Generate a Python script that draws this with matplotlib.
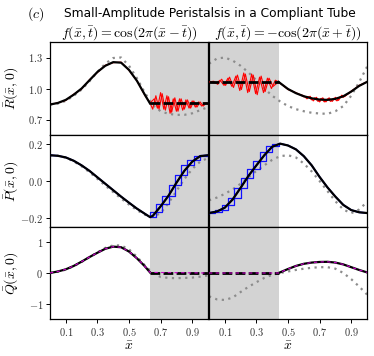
import matplotlib
matplotlib.use("Agg")
import matplotlib.pyplot as plt

plt.rcParams['mathtext.fontset'] = 'cm'

# ---------------- data ----------------
xg = [0.0, 0.05, 0.1, 0.15, 0.2, 0.25, 0.3, 0.35, 0.4, 0.45, 0.5,
      0.55, 0.6, 0.65, 0.7, 0.75, 0.8, 0.85, 0.9, 0.95, 1.0]

# shaded (gray) intervals
shade_left = (0.633, 1.0)
shade_right = (0.0, 0.44)

# ---- R, left column ----
R_left_x = [0.0, 0.05, 0.1, 0.15, 0.2, 0.25, 0.3, 0.35, 0.4, 0.45, 0.5, 0.55, 0.6, 0.633]
R_left = [0.845, 0.86, 0.89, 0.94, 1.0, 1.08, 1.16, 1.22, 1.255, 1.25, 1.18, 1.075, 0.94, 0.855]
R_left_flat = 0.855
R_left_dot = [0.845, 0.855, 0.88, 0.93, 0.99, 1.07, 1.16, 1.24, 1.295, 1.30, 1.22,
              1.10, 0.96, 0.84, 0.78, 0.755, 0.745, 0.745, 0.76, 0.79, 0.82]
R_left_redA_x = [0.0, 0.05, 0.1, 0.15, 0.2, 0.25, 0.3, 0.35, 0.4, 0.45, 0.5, 0.55, 0.6, 0.633,
                 0.65, 0.67, 0.69, 0.71, 0.73, 0.75, 0.77, 0.79, 0.81, 0.83, 0.85, 0.87,
                 0.89, 0.91, 0.93, 0.95, 0.97, 0.99, 1.0]
R_left_redA = [0.845, 0.862, 0.885, 0.945, 0.995, 1.085, 1.155, 1.225, 1.25, 1.255, 1.175, 1.075, 0.935, 0.86,
               0.80, 0.93, 0.80, 0.95, 0.79, 0.92, 0.77, 0.91, 0.78, 0.90, 0.80, 0.89,
               0.81, 0.88, 0.82, 0.87, 0.83, 0.86, 0.85]
R_left_redB_x = [0.633, 0.66, 0.68, 0.70, 0.72, 0.74, 0.76, 0.78, 0.80, 0.82, 0.84, 0.86,
                 0.88, 0.90, 0.92, 0.94, 0.96, 0.98, 1.0]
R_left_redB = [0.86, 0.90, 0.81, 0.96, 0.80, 0.93, 0.76, 0.90, 0.78, 0.90, 0.79, 0.89,
               0.81, 0.88, 0.82, 0.87, 0.83, 0.86, 0.85]

# ---- R, right column ----
R_right_flat = 1.064
R_right_x = [0.44, 0.5, 0.55, 0.6, 0.65, 0.7, 0.75, 0.8, 0.85, 0.9, 0.95, 1.0]
R_right = [1.064, 0.995, 0.955, 0.925, 0.905, 0.893, 0.89, 0.90, 0.925, 0.97, 1.025, 1.064]
R_right_dot = [1.24, 1.29, 1.30, 1.27, 1.22, 1.155, 1.08, 1.0, 0.93, 0.875, 0.83,
               0.80, 0.78, 0.765, 0.758, 0.755, 0.78, 0.83, 0.93, 1.06, 1.21]
R_right_redA_x = [0.0, 0.03, 0.055, 0.08, 0.105, 0.13, 0.155, 0.18, 0.205, 0.23, 0.255, 0.28,
                  0.305, 0.33, 0.355, 0.38, 0.405, 0.44, 0.5, 0.55, 0.6, 0.62, 0.64, 0.66,
                  0.68, 0.70, 0.72, 0.74, 0.76, 0.78, 0.80, 0.82, 0.84, 0.86, 0.9, 0.95, 1.0]
R_right_redA = [1.064, 1.07, 1.04, 1.09, 1.03, 1.11, 1.01, 1.13, 0.99, 1.14, 0.97, 1.13,
                0.94, 1.12, 0.97, 1.10, 1.02, 1.064, 0.995, 0.955, 0.93, 0.90, 0.925, 0.88,
                0.915, 0.87, 0.91, 0.87, 0.91, 0.875, 0.915, 0.885, 0.935, 0.925, 0.975, 1.025, 1.064]
R_right_redB_x = [0.0, 0.045, 0.07, 0.095, 0.12, 0.145, 0.17, 0.195, 0.22, 0.245, 0.27, 0.295,
                  0.32, 0.345, 0.37, 0.395, 0.42, 0.44, 0.5, 0.55, 0.6, 0.63, 0.65, 0.67,
                  0.69, 0.71, 0.73, 0.75, 0.77, 0.79, 0.81, 0.83, 0.85, 0.9, 0.95, 1.0]
R_right_redB = [1.064, 1.05, 1.08, 1.03, 1.10, 1.02, 1.12, 0.98, 1.15, 0.96, 1.14, 0.95,
                1.11, 0.96, 1.10, 1.00, 1.08, 1.064, 0.99, 0.96, 0.92, 0.92, 0.89, 0.91,
                0.875, 0.905, 0.87, 0.90, 0.875, 0.905, 0.88, 0.92, 0.915, 0.97, 1.03, 1.064]

# ---- P, left column ----
P_left_x = [0.0, 0.05, 0.1, 0.15, 0.2, 0.25, 0.3, 0.35, 0.4, 0.45, 0.5, 0.55, 0.6, 0.633,
            0.65, 0.7, 0.75, 0.8, 0.85, 0.9, 0.95, 1.0]
P_left = [0.14, 0.137, 0.128, 0.11, 0.085, 0.055, 0.02, -0.015, -0.05, -0.085, -0.118, -0.15,
          -0.178, -0.196, -0.19, -0.138, -0.08, -0.01, 0.055, 0.105, 0.135, 0.14]
P_left_dot = [0.14, 0.137, 0.127, 0.107, 0.08, 0.048, 0.012, -0.025, -0.06, -0.095, -0.128,
              -0.158, -0.183, -0.195, -0.175, -0.12, -0.055, 0.01, 0.065, 0.105, 0.125]
P_left_blue_x = [0.633, 0.67, 0.71, 0.75, 0.79, 0.83, 0.87, 0.91, 0.95, 1.0]
P_left_blue = [-0.196, -0.17, -0.126, -0.08, -0.024, 0.03, 0.085, 0.113, 0.135, 0.14]

# ---- P, right column ----
P_right = [-0.174, -0.166, -0.145, -0.10, -0.037, 0.028, 0.085, 0.14, 0.186, 0.203, 0.193,
           0.172, 0.135, 0.085, 0.022, -0.035, -0.085, -0.13, -0.158, -0.17, -0.174]
P_right_dot = [-0.105, -0.09, -0.07, -0.045, -0.015, 0.02, 0.055, 0.085, 0.115, 0.135, 0.14,
               0.128, 0.095, 0.052, 0.0, -0.055, -0.11, -0.155, -0.175, -0.155, -0.114]
P_right_blue_x = [0.0, 0.04, 0.08, 0.12, 0.16, 0.20, 0.24, 0.28, 0.32, 0.36, 0.40, 0.44]
P_right_blue = [-0.174, -0.168, -0.155, -0.13, -0.09, -0.037, 0.015, 0.065, 0.11, 0.155, 0.188, 0.203]

# ---- Q, left column ----
Q_left_x = [0.0, 0.05, 0.1, 0.15, 0.2, 0.25, 0.3, 0.35, 0.4, 0.45, 0.5, 0.55, 0.6, 0.633]
Q_left = [0.0, 0.05, 0.12, 0.23, 0.37, 0.52, 0.66, 0.79, 0.86, 0.84, 0.70, 0.48, 0.22, 0.02]
Q_left_dot = [0.0, 0.04, 0.11, 0.22, 0.36, 0.52, 0.67, 0.82, 0.9, 0.9, 0.77, 0.53, 0.25, 0.0,
              -0.13, -0.16, -0.17, -0.16, -0.15, -0.12, -0.08]

# ---- Q, right column ----
Q_right_x = [0.44, 0.5, 0.55, 0.6, 0.65, 0.7, 0.75, 0.8, 0.85, 0.9, 0.95, 1.0]
Q_right = [0.0, 0.13, 0.23, 0.3, 0.34, 0.36, 0.365, 0.34, 0.28, 0.19, 0.1, 0.02]
Q_right_dot = [-0.76, -0.86, -0.88, -0.8, -0.62, -0.45, -0.3, -0.16, -0.06, 0.0, 0.05,
               0.1, 0.14, 0.17, 0.19, 0.19, 0.14, 0.0, -0.2, -0.44, -0.7]

# ticks
x_ticks = [0.1, 0.3, 0.5, 0.7, 0.9]
R_ticks = [0.7, 1.0, 1.3]
P_ticks = [-0.2, 0.0, 0.2]
Q_ticks = [-1, 0, 1]
title_main = "Small-Amplitude Peristalsis in a Compliant Tube"
col_titles = [r'$f(\bar{x},\bar{t}) = \cos(2\pi(\bar{x}-\bar{t}))$',
              r'$f(\bar{x},\bar{t}) = -\cos(2\pi(\bar{x}+\bar{t}))$']
row_labels = [r'$\bar{R}(\bar{x},0)$', r'$\bar{P}(\bar{x},0)$', r'$\bar{Q}(\bar{x},0)$']

# ---------------- figure ----------------
W, H = 374, 356
fig = plt.figure(figsize=(W / 100, H / 100), dpi=100)

cols = [(50, 208), (209, 367)]
rows = [(42, 135), (135, 227), (227, 319)]
axes = [[None, None] for _ in range(3)]
for r, (y0, y1) in enumerate(rows):
    for c, (x0, x1) in enumerate(cols):
        ax = fig.add_axes([x0 / W, 1 - y1 / H, (x1 - x0) / W, (y1 - y0) / H])
        axes[r][c] = ax

shade_col = '#d3d3d3'
blue = '#1010ff'
dot_kw = dict(color='#8c8c8c', linestyle=(0, (1, 2)), lw=1.6, zorder=2)
blk_kw = dict(color='black', lw=1.6, zorder=4)
dash_kw = dict(color='black', lw=2.0, linestyle=(0, (3.5, 1.2)), zorder=4)
mag_kw = dict(color='#cc00cc', lw=0.8, linestyle=(0, (3, 3)), zorder=5)

ylims = [(0.55, 1.45), (-0.25, 0.25), (-1.5, 1.5)]
yticks = [R_ticks, P_ticks, Q_ticks]
ytl = [['$0.7$', '$1.0$', '$1.3$'], ['$-0.2$', '$0.0$', '$0.2$'], ['$-1$', '$0$', '$1$']]

for r in range(3):
    for c in range(2):
        ax = axes[r][c]
        s = shade_left if c == 0 else shade_right
        ax.axvspan(s[0], s[1], color=shade_col, lw=0, zorder=0)
        ax.set_xlim(0, 1)
        ax.set_ylim(*ylims[r])
        for sp in ax.spines.values():
            sp.set_linewidth(0.9)
        ax.tick_params(direction='out', length=3, width=0.7, labelsize=7.5,
                       labelcolor='#333333', pad=2)
        if r == 2:
            ax.set_xticks(x_ticks)
            ax.set_xticklabels(['$%.1f$' % v for v in x_ticks])
            ax.set_xlabel(r'$\bar{x}$', fontsize=10, labelpad=1)
        else:
            ax.set_xticks([])
        if c == 0:
            ax.set_yticks(yticks[r])
            ax.set_yticklabels(ytl[r])
            ax.set_ylabel(row_labels[r], fontsize=10)
            ax.yaxis.set_label_coords(-0.19, 0.5)
        else:
            ax.set_yticks([])

# --- R row ---
ax = axes[0][0]
ax.plot(xg, R_left_dot, **dot_kw)
ax.plot(R_left_redA_x, R_left_redA, color='red', lw=0.8, zorder=3)
ax.plot(R_left_redB_x, R_left_redB, color='red', lw=0.8, zorder=3)
ax.plot(R_left_x, R_left, **blk_kw)
ax.plot([shade_left[0], 1.0], [R_left_flat, R_left_flat], **dash_kw)

ax = axes[0][1]
ax.plot(xg, R_right_dot, **dot_kw)
ax.plot(R_right_redA_x, R_right_redA, color='red', lw=0.8, zorder=3)
ax.plot(R_right_redB_x, R_right_redB, color='red', lw=0.8, zorder=3)
ax.plot(R_right_x, R_right, **blk_kw)
ax.plot([0.0, shade_right[1]], [R_right_flat, R_right_flat], **dash_kw)

# --- P row ---
ax = axes[1][0]
ax.plot(xg, P_left_dot, **dot_kw)
ax.plot(P_left_x, P_left, color=blue, lw=1.2, zorder=3)
ax.plot(P_left_blue_x, P_left_blue, color=blue, lw=0.9, drawstyle='steps-pre', zorder=3)
ax.plot(P_left_blue_x, P_left_blue, color=blue, lw=0.9, drawstyle='steps-post', zorder=3)
ax.plot(P_left_x, P_left, color='black', lw=1.6, zorder=4)

ax = axes[1][1]
ax.plot(xg, P_right_dot, **dot_kw)
ax.plot(xg, P_right, color=blue, lw=1.2, zorder=3)
ax.plot(P_right_blue_x, P_right_blue, color=blue, lw=0.9, drawstyle='steps-pre', zorder=3)
ax.plot(P_right_blue_x, P_right_blue, color=blue, lw=0.9, drawstyle='steps-post', zorder=3)
ax.plot(xg, P_right, color='black', lw=1.6, zorder=4)

# --- Q row ---
ax = axes[2][0]
ax.plot(xg, Q_left_dot, **dot_kw)
ax.plot(Q_left_x, Q_left, **blk_kw)
ax.plot([shade_left[0], 1.0], [0, 0], **dash_kw)
ax.plot(Q_left_x + [1.0], Q_left + [0.0], **mag_kw)

ax = axes[2][1]
ax.plot(xg, Q_right_dot, **dot_kw)
ax.plot(Q_right_x, Q_right, **blk_kw)
ax.plot([0.0, shade_right[1]], [0, 0], **dash_kw)
ax.plot([0.0] + Q_right_x, [0.0] + Q_right, **mag_kw)

# titles
for c in range(2):
    axes[0][c].set_title(col_titles[c], fontsize=10, pad=3)
fig.text(36 / W, 1 - 14 / H, r'$(c)$', fontsize=10, ha='center', va='center')
fig.text(210 / W, 1 - 14 / H, title_main, fontsize=8.8, ha='center', va='center',
         family='DejaVu Sans')

fig.savefig('out.png', dpi=100)
